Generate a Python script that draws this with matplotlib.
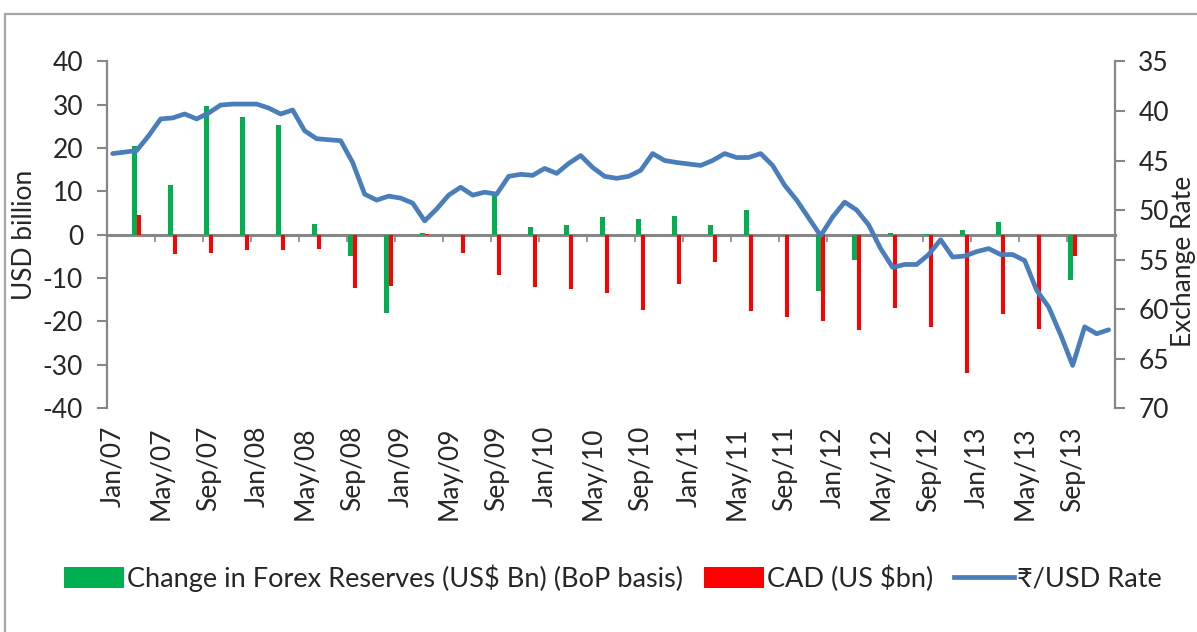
import matplotlib
matplotlib.use("Agg")
import matplotlib.pyplot as plt
import pandas as pd
from matplotlib.patches import Patch, Rectangle
from matplotlib.lines import Line2D

# ---------------- data ----------------
months = [d.strftime("%b/%y") for d in pd.date_range("2007-01-01", periods=84, freq="MS")]
tick_labels = months[::4][:21]  # Jan/07 ... Sep/13

quarters = ["Mar/07", "Jun/07", "Sep/07", "Dec/07", "Mar/08", "Jun/08", "Sep/08", "Dec/08",
            "Mar/09", "Jun/09", "Sep/09", "Dec/09", "Mar/10", "Jun/10", "Sep/10", "Dec/10",
            "Mar/11", "Jun/11", "Sep/11", "Dec/11", "Mar/12", "Jun/12", "Sep/12", "Dec/12",
            "Mar/13", "Jun/13", "Sep/13"]
forex_change = [20.5, 11.6, 29.7, 27.2, 25.4, 2.5, -5.0, -18.0, 0.3, 0.0, 9.2, 1.9, 2.3, 4.1,
                3.6, 4.4, 2.3, 5.8, 0.0, -13.1, -5.8, 0.5, 0.2, 1.2, 2.9, 0.0, -10.4]
cad = [4.5, -4.4, -4.3, -3.5, -3.5, -3.3, -12.3, -11.8, 0.2, -4.2, -9.2, -12.1, -12.6, -13.5,
       -17.3, -11.3, -6.4, -17.7, -18.9, -20.0, -22.0, -17.0, -21.2, -31.8, -18.3, -21.8, -4.9]

inr_usd = [44.3, 44.15, 44.0, 42.5, 40.8, 40.7, 40.3, 40.8, 40.2, 39.4,
           39.3, 39.3, 39.3, 39.7, 40.3, 39.9, 42.0, 42.8, 42.9, 43.0,
           45.2, 48.4, 49.0, 48.6, 48.8, 49.3, 51.1, 49.9, 48.5, 47.7,
           48.5, 48.2, 48.4, 46.6, 46.4, 46.5, 45.8, 46.3, 45.3, 44.5,
           45.7, 46.6, 46.8, 46.6, 46.0, 44.3, 45.0, 45.2, 45.35, 45.5,
           45.0, 44.3, 44.7, 44.7, 44.3, 45.5, 47.5, 49.0, 50.8, 52.6,
           50.7, 49.2, 50.0, 51.5, 53.9, 55.8, 55.5, 55.5, 54.5, 53.0,
           54.75, 54.65, 54.2, 53.9, 54.5, 54.5, 55.1, 58.1, 59.8, 62.6,
           65.7, 61.8, 62.5, 62.1]

legend_labels = ["Change in Forex Reserves (US$ Bn) (BoP basis)", "CAD (US $bn)", "\u20b9/USD Rate"]

# ---------------- style ----------------
GREEN = "#00B050"
RED = "#FF0000"
BLUE = "#4A7EBB"
GREY = "#868686"
TXT = "#262626"
plt.rcParams["font.family"] = ["Lato", "DejaVu Sans"]
plt.rcParams["axes.unicode_minus"] = False

fig = plt.figure(figsize=(11.97, 6.32), dpi=100)
ax = fig.add_axes([0.0891, 0.3544, 0.8421, 0.5483])
ax2 = ax.twinx()

idx = {m: i for i, m in enumerate(months)}
qpos = [idx[q] for q in quarters]
bw = 0.36
ax.bar([p - 0.19 for p in qpos], forex_change, width=bw, color=GREEN, zorder=2)
ax.bar([p + 0.17 for p in qpos], cad, width=bw, color=RED, zorder=2)

ax.set_xlim(-0.5, len(months) - 0.5)
ax.set_ylim(-40, 40)
ax.set_yticks(range(-40, 41, 10))
ax.set_xticks([idx[m] for m in tick_labels])
ax.set_xticklabels(tick_labels, rotation=90)
ax.tick_params(axis="x", length=0, pad=13, labelsize=19, colors=TXT)
ax.tick_params(axis="y", length=7, width=1.5, color=GREY, pad=10, labelsize=19, labelcolor=TXT)
for s in ["top", "right", "bottom"]:
    ax.spines[s].set_visible(False)
ax.spines["left"].set_color(GREY)
ax.spines["left"].set_linewidth(1.6)

# category axis crossing at zero with boundary tick marks
sec = ax.secondary_xaxis(0.5)
sec.set_alignment("bottom")
sec.set_xticks([b - 0.5 for b in range(0, 85, 4)])
sec.tick_params(axis="x", direction="out", length=5, width=1.2, color=GREY, labelbottom=False, labeltop=False)
sec.spines["bottom"].set_color(GREY)
sec.spines["bottom"].set_linewidth(2.2)

ax.set_ylabel("USD billion", fontsize=19, color=TXT)
ax.yaxis.set_label_coords(-0.069, 0.5)

ax2.plot(range(len(inr_usd)), inr_usd, color=BLUE, lw=3.4, solid_joinstyle="round",
         solid_capstyle="round", zorder=3)
ax2.set_ylim(70, 35)
ax2.set_yticks(range(35, 71, 5))
ax2.tick_params(axis="y", length=7, width=1.5, color=GREY, pad=10, labelsize=19, labelcolor=TXT)
for s in ["top", "left", "bottom"]:
    ax2.spines[s].set_visible(False)
ax2.spines["right"].set_color(GREY)
ax2.spines["right"].set_linewidth(1.6)
ax2.set_ylabel("Exchange Rate", fontsize=19, color=TXT)
ax2.yaxis.set_label_coords(1.056, 0.424)

handles = [Patch(facecolor=GREEN, edgecolor="none"), Patch(facecolor=RED, edgecolor="none"),
           Line2D([0], [0], color=BLUE, lw=3.4)]
fig.legend(handles, legend_labels, loc="center", bbox_to_anchor=(0.512, 0.0854), ncol=3,
           frameon=False, fontsize=19.5, handlelength=2.2, handleheight=0.8, handletextpad=0.1,
           columnspacing=0.8, labelcolor=TXT)

# outer chart frame (top and left edges visible)
fig.patches.append(Rectangle((5 / 1197, -0.2), 1.5, 0.2 + 1 - 14 / 632, transform=fig.transFigure,
                             fill=False, edgecolor="#A6A6A6", lw=1.6))

fig.savefig("out.png", dpi=100)
